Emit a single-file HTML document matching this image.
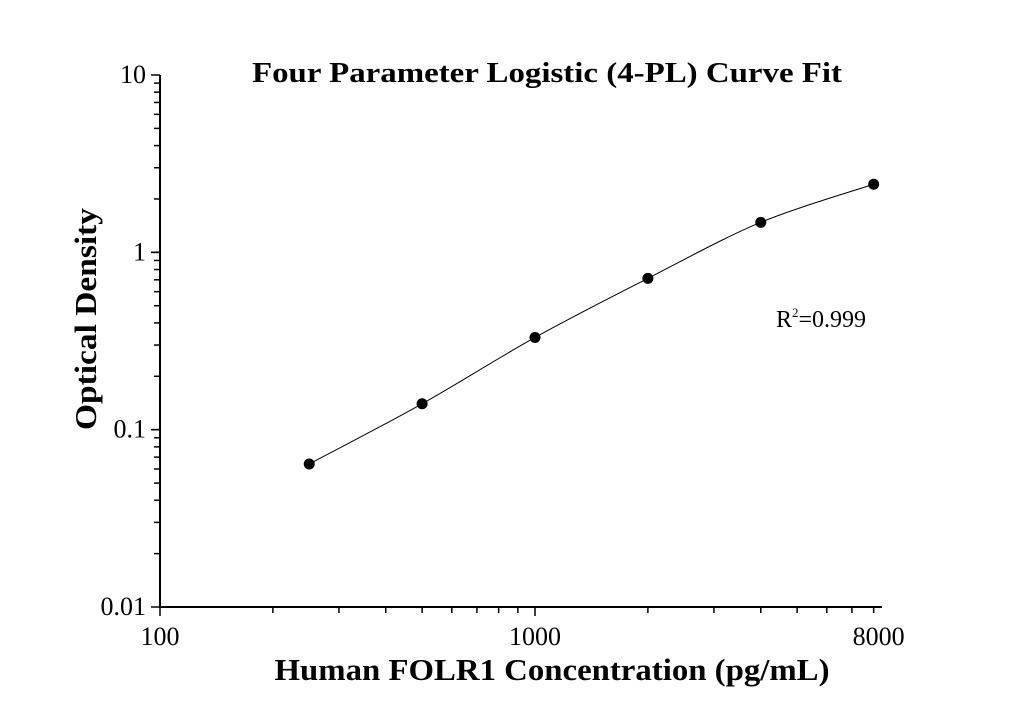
<!DOCTYPE html>
<html><head><meta charset="utf-8"><style>
body{margin:0;background:#fff}
svg{display:block;font-family:"Liberation Serif",serif}
</style></head><body>
<svg id="chart" width="1016" height="718">
<text x="547" y="82" font-size="29" font-weight="bold" text-anchor="middle" textLength="590" lengthAdjust="spacingAndGlyphs">Four Parameter Logistic (4-PL) Curve Fit</text>
<text x="552" y="680" font-size="31" font-weight="bold" text-anchor="middle" textLength="555" lengthAdjust="spacingAndGlyphs">Human FOLR1 Concentration (pg/mL)</text>
<text transform="translate(96,319) rotate(-90)" font-size="31" font-weight="bold" text-anchor="middle" textLength="222" lengthAdjust="spacingAndGlyphs">Optical Density</text>
<text x="776" y="327" font-size="24">R<tspan dy="-10" font-size="13">2</tspan><tspan dy="10">=0.999</tspan></text>
<g id="axes"></g><g id="marks"></g>
</svg>
<script>
const concentrations=[250,500,1000,2000,4000,8000];
const odValues=[0.064,0.140,0.331,0.713,1.476,2.42];
const xTickLabels=["100","1000","8000"];
const xTickValues=[100,1000,8000];
const yTickLabels=["0.01","0.1","1","10"];
const yTickValues=[0.01,0.1,1,10];
const NS="http://www.w3.org/2000/svg";
const X0=160,X1=882,Y0=607,Y1=75;
const xMin=100,xMax=Math.pow(10,2+(X1-X0)/375);
const x=v=>X0+(Math.log10(v)-2)*375;
const y=v=>Y0-(Math.log10(v)+2)/3*(Y0-Y1);
const axes=document.getElementById('axes'),marks=document.getElementById('marks');
function mk(t,a,p){const e=document.createElementNS(NS,t);for(const k in a)e.setAttribute(k,a[k]);p.appendChild(e);return e;}
let e=mk('line',{x1:X0,y1:Y1,x2:X0,y2:Y0,stroke:'#000','stroke-width':2},axes);


e=mk('line',{x1:X0-1,y1:Y0,x2:X1,y2:Y0,stroke:'#000','stroke-width':2},axes);


for(let d=100;d<=1000;d*=10){for(let m=1;m<10;m++){const v=d*m;if(v>xMax)break;const maj=m===1;
 e=mk('line',{x1:x(v),y1:Y0,x2:x(v),y2:Y0+(maj?9:6),stroke:'#000','stroke-width':1.5},axes);
 
 }}
xTickValues.forEach((v,i)=>{e=mk('text',{x:x(v)+(i===2?5:0),y:Y0+38,'font-size':26,'text-anchor':'middle'},axes);e.textContent=xTickLabels[i];
 
 });
for(let d=0.01;d<10;d*=10){for(let m=1;m<=10;m++){const v=d*m;const maj=(m===1||m===10);
 e=mk('line',{x1:X0,y1:y(v),x2:X0-(maj?9:6),y2:y(v),stroke:'#000','stroke-width':1.5},axes);
 
 }}
yTickValues.forEach((v,i)=>{e=mk('text',{x:X0-14,y:y(v)+8,'font-size':26,'text-anchor':'end'},axes);e.textContent=yTickLabels[i];
 
 });
const P=concentrations.map((c,i)=>[x(c),y(odValues[i])]);
let d='M'+P[0][0]+','+P[0][1];
for(let i=0;i<P.length-1;i++){const p0=P[i-1]||P[i],p1=P[i],p2=P[i+1],p3=P[i+2]||P[i+1];
 d+=` C${p1[0]+(p2[0]-p0[0])/6},${p1[1]+(p2[1]-p0[1])/6} ${p2[0]-(p3[0]-p1[0])/6},${p2[1]-(p3[1]-p1[1])/6} ${p2[0]},${p2[1]}`;}
e=mk('path',{d:d,fill:'none',stroke:'#000','stroke-width':1},marks);


P.forEach(p=>{e=mk('circle',{cx:p[0],cy:p[1],r:5.5,fill:'#000'},marks);
 
 });
</script>
</body></html>
